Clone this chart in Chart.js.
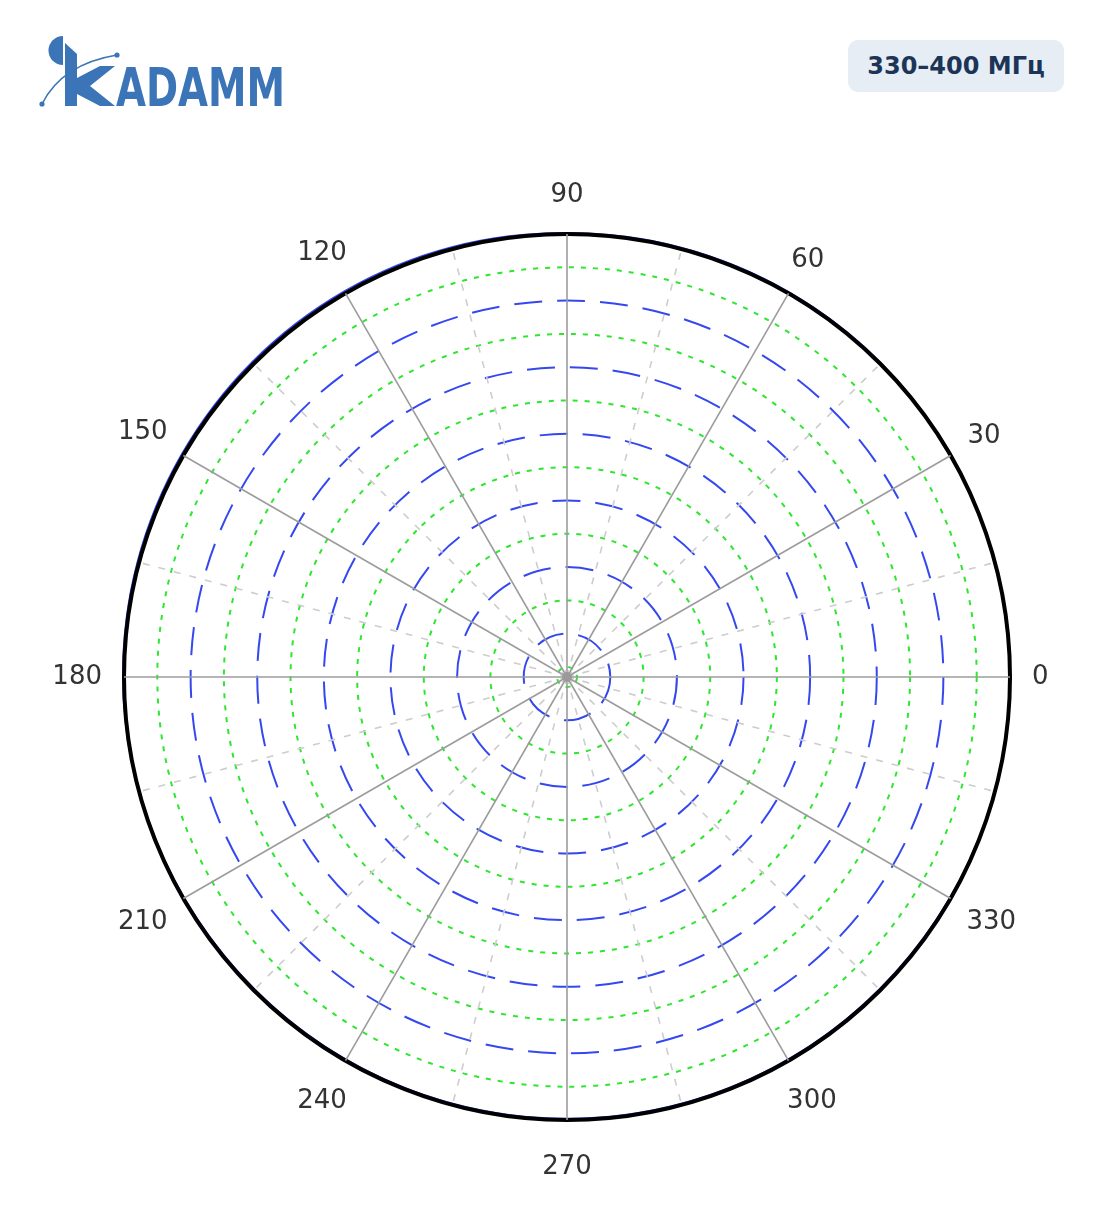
<!DOCTYPE html>
<html>
<head>
<meta charset="utf-8">
<script src="https://cdn.jsdelivr.net/npm/chart.js@4/dist/chart.umd.min.js"></script>
<style>
  body { margin: 0; background: #fff; }
  #wrap { position: relative; width: 1104px; height: 1211px; overflow: hidden; }
  #chart { position: absolute; left: 0; top: 0; }
  #logo { position: absolute; left: 0; top: 0; }
  .badge {
    position: absolute; left: 848px; top: 40px; width: 216px; height: 52px;
    background: #e6edf5; border-radius: 10px;
    font: bold 24px "DejaVu Sans", sans-serif; color: #1c3557;
    display: flex; align-items: center; justify-content: center;
  }
</style>
</head>
<body>
<div id="wrap">
  <canvas id="chart" width="1104" height="1211"></canvas>
  <svg id="logo" width="300" height="120" viewBox="0 0 300 120">
    <path d="M63 36 A14.5 14.5 0 0 0 63 65 Z" fill="#3b74b7"/>
    <polygon points="65,43 77,54 77,106 65,106" fill="#3b74b7"/>
    <polygon points="77,78 100,66 115,66 90,86 115,106 100,106 77,94" fill="#3b74b7"/>
    <path d="M42 104 Q 62 64 117 55" stroke="#3b74b7" stroke-width="1.6" fill="none"/>
    <circle cx="42" cy="104" r="2.6" fill="#3b74b7"/>
    <circle cx="117" cy="55" r="2.6" fill="#3b74b7"/>
    <text transform="translate(116,106) scale(1,1.2)" x="0" y="0" font-family="DejaVu Sans"
          font-weight="bold" font-size="44" textLength="169" lengthAdjust="spacingAndGlyphs"
          fill="#3b74b7">ADAMM</text>
  </svg>
  <div class="badge">330–400 МГц</div>
</div>
<script>
// directions of the measurement, degrees counter-clockwise from the right
const angles = [0, 15, 30, 45, 60, 75, 90, 105, 120, 135, 150, 165,
                180, 195, 210, 225, 240, 255, 270, 285, 300, 315, 330, 345];
// pattern level in ring units (13 = outer ring)
const gain = [13.00, 13.00, 13.00, 13.02, 13.03, 13.03, 13.02, 13.05, 13.06, 13.06, 13.05, 13.04,
              13.02, 13.00, 12.98, 12.97, 12.97, 12.97, 12.97, 12.97, 12.97, 12.97, 12.98, 13.00];
// angle labels printed round the plot
const angleTickLabels = ['0', '30', '60', '90', '120', '150', '180', '210', '240', '270', '300', '330'];
// concentric rings
const ringValues = [0, 1, 2, 3, 4, 5, 6, 7, 8, 9, 10, 11, 12, 13];

// Chart.js goes clockwise from the start angle, the plot goes counter-clockwise
const order = angles.map((a, j) => (angles.length - j) % angles.length);
const labels = order.map(i => String(angles[i]));
const values = order.map(i => gain[i]);

const lastRing = ringValues[ringValues.length - 1];

const angleLabelPlugin = {
  id: 'angleLabels',
  afterDraw(chart) {
    const scale = chart.scales.r;
    const ctx = chart.ctx;
    ctx.save();
    // lines meet in a small grey hub
    ctx.fillStyle = '#9a9a9a';
    ctx.beginPath();
    ctx.arc(scale.xCenter, scale.yCenter, 5, 0, Math.PI * 2);
    ctx.fill();

    ctx.font = '26px "DejaVu Sans", sans-serif';
    ctx.fillStyle = '#333';
    ctx.textAlign = 'center';
    ctx.textBaseline = 'middle';
    labels.forEach((lab, i) => {
      if (!angleTickLabels.includes(lab)) return;
      const w = ctx.measureText(lab).width;
      const p = scale.getPointPosition(i, scale.drawingArea + 22 + w / 2);
      ctx.fillText(lab, p.x, p.y);
    });
    ctx.restore();
  }
};

const ringColor = (v) => v === lastRing ? '#000' : (v % 2 ? '#3548ef' : '#2fe62f');
const ringDash = (v) => v === lastRing ? [] : (v % 2 ? [28, 15] : [5, 7]);
const isMajor = (i) => angles[order[i]] % 30 === 0;

new Chart(document.getElementById('chart'), {
  type: 'radar',
  data: {
    labels: labels,
    datasets: [{
      label: 'Pattern',
      data: values,
      borderColor: '#3548ef',
      borderWidth: 2.5,
      pointRadius: 0,
      fill: false,
      tension: 0.34
    }]
  },
  options: {
    responsive: false,
    animation: false,
    layout: { padding: { left: 124, top: 234, right: 94, bottom: 91 } },
    plugins: { legend: { display: false }, tooltip: { enabled: false } },
    scales: {
      r: {
        min: -0.3,
        max: 13,
        startAngle: 90,
        afterBuildTicks: (scale) => { scale.ticks = ringValues.map(v => ({ value: v })); },
        ticks: { display: false },
        pointLabels: { display: false },
        grid: {
          z: 1,
          circular: true,
          color: (c) => ringColor(ringValues[c.index]),
          lineWidth: (c) => ringValues[c.index] === lastRing ? 4 : 2,
          borderDash: (c) => ringDash(ringValues[c.index])
        },
        border: {
          dash: (c) => ringDash(ringValues[c.index])
        },
        angleLines: {
          color: (c) => isMajor(c.index) ? '#9c9c9c' : '#cdcdcd',
          lineWidth: 1.6,
          borderDash: (c) => isMajor(c.index) ? [] : [7, 9]
        }
      }
    }
  },
  plugins: [angleLabelPlugin]
});
</script>
</body>
</html>
